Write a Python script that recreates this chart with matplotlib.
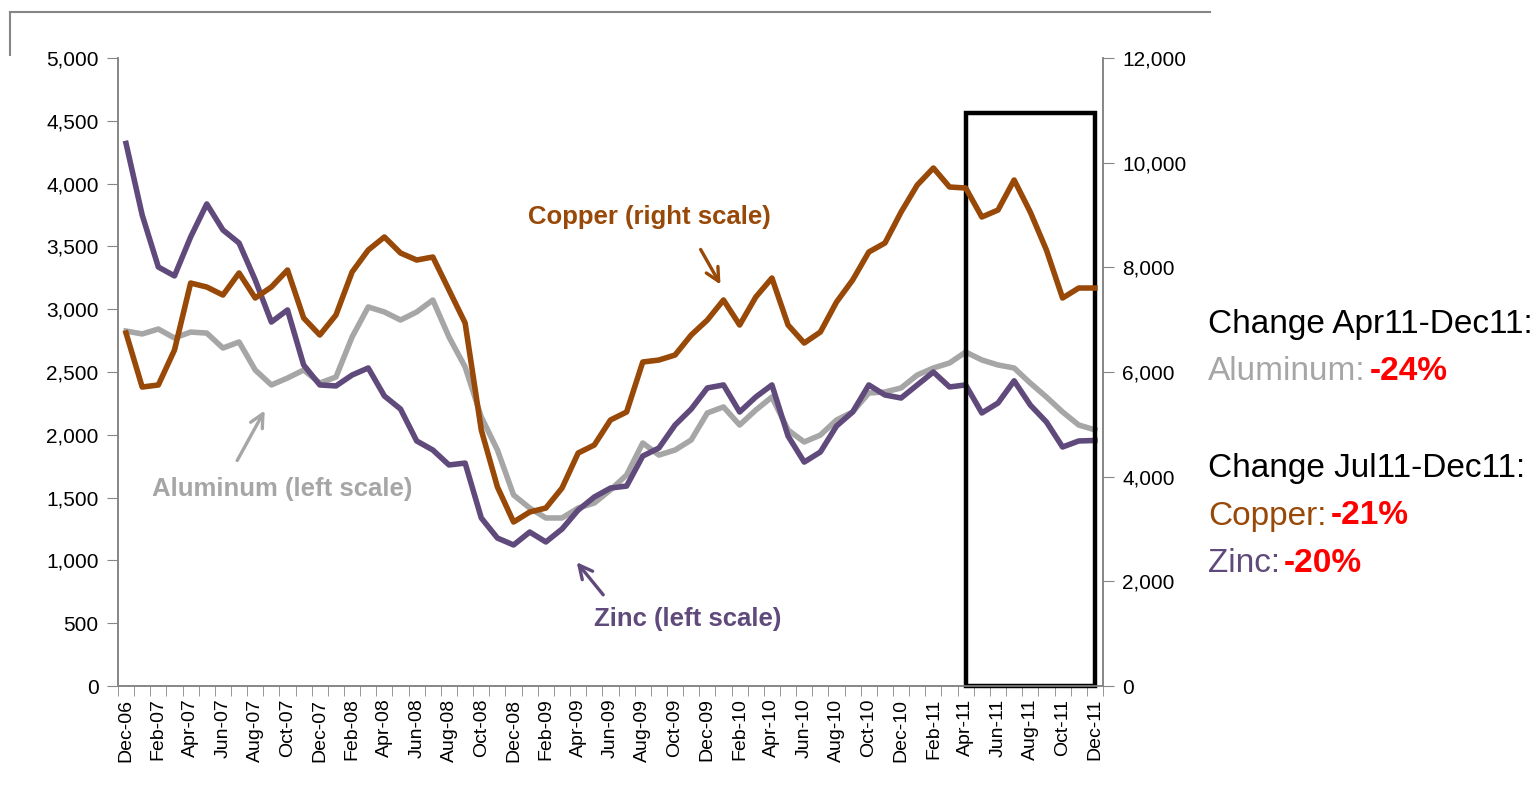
import matplotlib
matplotlib.use("Agg")
import matplotlib.pyplot as plt
import numpy as np
import pandas as pd
from matplotlib.lines import Line2D
from matplotlib.patches import Rectangle

# monthly prices, Dec-06 .. Dec-11
months = pd.date_range("2006-12-01", "2011-12-01", freq="MS")
month_labels = [d.strftime("%b-%y") for d in months]

zinc = [4320, 3750, 3336, 3265, 3575, 3838, 3631, 3527, 3233, 2898,
        2994, 2556, 2397, 2389, 2476, 2532, 2309, 2205, 1951, 1879,
        1760, 1775, 1338, 1178, 1123, 1226, 1147, 1250, 1401, 1505,
        1576, 1592, 1831, 1895, 2078, 2205, 2373, 2397, 2182, 2301,
        2397, 1990, 1783, 1863, 2070, 2182, 2397, 2317, 2293, 2397,
        2500, 2381, 2397, 2174, 2253, 2430, 2237, 2102, 1903, 1951,
        1955]

aluminum = [2826, 2803, 2842, 2771, 2818, 2810, 2691, 2739, 2516, 2397,
            2452, 2516, 2412, 2460, 2779, 3018, 2978, 2914, 2978, 3073,
            2779, 2540, 2142, 1879, 1521, 1417, 1338, 1338, 1417, 1457,
            1561, 1680, 1935, 1839, 1879, 1959, 2174, 2222, 2078, 2197,
            2301, 2038, 1943, 1998, 2118, 2182, 2333, 2341, 2373, 2476,
            2532, 2572, 2659, 2596, 2556, 2532, 2412, 2301, 2182, 2078,
            2040]

copper = [6745, 5713, 5752, 6420, 7700, 7624, 7471, 7892, 7414, 7624,
          7949, 7032, 6707, 7089, 7911, 8331, 8580, 8274, 8140, 8197,
          7567, 6936, 4892, 3803, 3134, 3325, 3401, 3783, 4452, 4605,
          5083, 5236, 6191, 6229, 6325, 6707, 6993, 7376, 6898, 7433,
          7796, 6898, 6554, 6764, 7337, 7758, 8293, 8465, 9057, 9573,
          9898, 9535, 9516, 8962, 9095, 9669, 9057, 8331, 7414, 7605,
          7605]

c_copper = "#984807"
c_zinc = "#604A7B"
c_alu = "#A6A6A6"
c_axis = "#868686"

plt.rcParams["font.family"] = ["Liberation Sans", "DejaVu Sans"]

fig = plt.figure(figsize=(15.34, 7.86), dpi=100)
ax = fig.add_axes([0.0769, 0.1272, 0.6421, 0.799])
ax2 = ax.twinx()

x = np.arange(len(months))
ax.plot(x, aluminum, color=c_alu, lw=4, zorder=3)
ax.plot(x, zinc, color=c_zinc, lw=4, zorder=4)
ax2.plot(x, copper, color=c_copper, lw=4, zorder=3)

ax.set_xlim(-0.5, len(x) - 0.5)
ax.set_ylim(0, 5000)
ax2.set_ylim(0, 12000)

ax.set_yticks(np.arange(0, 5001, 500))
ax.set_yticklabels([f"{v:,}" for v in range(0, 5001, 500)], fontsize=15)
ax2.set_yticks(np.arange(0, 12001, 2000))
ax2.set_yticklabels([f"{v:,}" for v in range(0, 12001, 2000)], fontsize=15)

ax.set_xticks(x[::2])
ax.set_xticklabels(month_labels[::2], rotation=90, fontsize=14)
ax.set_xticks(np.arange(-0.5, len(x), 1), minor=True)
ax.tick_params(axis="x", which="major", length=0, pad=9)
ax.tick_params(axis="x", which="minor", length=7, color=c_axis)
ax.tick_params(axis="y", length=8, color=c_axis, pad=6)
ax2.tick_params(axis="y", length=8, color=c_axis, pad=6)

for a in (ax, ax2):
    a.spines["top"].set_visible(False)
    for s in ("left", "right", "bottom"):
        a.spines[s].set_color(c_axis)
        a.spines[s].set_linewidth(1.2)

# highlight box Apr-11 .. Dec-11
ax.add_patch(Rectangle((52, 0), 8, 4560, fill=False, ec="black", lw=3.2,
                       zorder=6, clip_on=False))

# series labels with arrows
lab = dict(fontsize=18.5, fontweight="bold", ha="center", va="center")
ax.text(32.4, 3734, "Copper (right scale)", color=c_copper, **lab)
ax.annotate("", xy=(36.9, 3177), xytext=(35.5, 3495),
            arrowprops=dict(arrowstyle="->", color=c_copper, lw=2.4, mutation_scale=24))
ax.text(9.66, 1568, "Aluminum (left scale)", color=c_alu, **lab)
ax.annotate("", xy=(8.67, 2213), xytext=(6.8, 1776),
            arrowprops=dict(arrowstyle="->", color=c_alu, lw=2.4, mutation_scale=24))
ax.text(34.8, 533, "Zinc (left scale)", color=c_zinc, **lab)
ax.annotate("", xy=(27.8, 1003), xytext=(29.66, 709),
            arrowprops=dict(arrowstyle="->", color=c_zinc, lw=2.4, mutation_scale=24))

# change summary on the right
fs = 24
def line(y, txt, color, pct=None):
    t = fig.text(1208 / 1534, 1 - y / 786, txt, color=color, fontsize=fs,
                 va="center", ha="left")
    if pct:
        ax.annotate(pct, xy=(1, 0.5), xycoords=t, xytext=(3, 0),
                    textcoords="offset points", va="center", ha="left",
                    color="#FF0000", fontsize=fs, fontweight="bold",
                    annotation_clip=False)

line(325, "Change Apr11-Dec11:", "black")
line(372, "Aluminum:", c_alu, "-24%")
line(468, "Change Jul11-Dec11:", "black")
line(516, "Copper:", c_copper, "-21%")
line(563, "Zinc:", c_zinc, "-20%")

# frame lines at top-left
fig.add_artist(Line2D([10 / 1534, 1210 / 1534], [1 - 12 / 786, 1 - 12 / 786],
                      color=c_axis, lw=1.5))
fig.add_artist(Line2D([10 / 1534, 10 / 1534], [1 - 12 / 786, 1 - 55 / 786],
                      color=c_axis, lw=1.5))

fig.savefig("out.png", dpi=100)
